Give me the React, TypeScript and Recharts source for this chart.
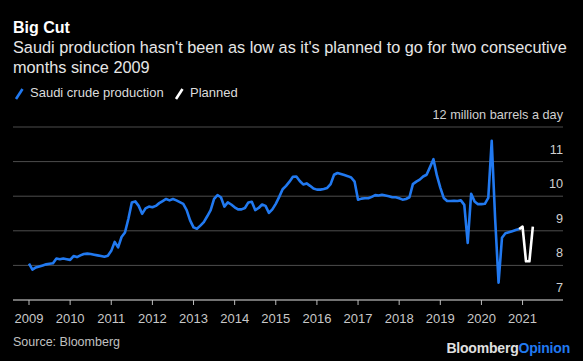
import React from "react";
import { LineChart, Line, XAxis, YAxis, CartesianGrid } from "recharts";

const W = 583;
const H = 361;
const X_AXIS_H = 30;
const Y_AXIS_W = 20;
const M = { top: 127, right: 0, bottom: 61 - X_AXIS_H, left: 13 };
const FONT = "'Liberation Sans', Arial, Helvetica, sans-serif";

const BLUE = "#2179f0";

// Tick labels
const years = [2009, 2010, 2011, 2012, 2013, 2014, 2015, 2016, 2017, 2018, 2019, 2020, 2021];
const yTicks = [7, 8, 9, 10, 11, 12];
const unitLabel = "12 million barrels a day";

// Saudi crude production, million barrels a day, monthly Jan..Dec
const prod2009 = [8.05, 7.88, 7.94, 7.97, 8.0, 8.03, 8.05, 8.06, 8.2, 8.18, 8.2, 8.18];
const prod2010 = [8.16, 8.27, 8.24, 8.29, 8.33, 8.34, 8.33, 8.31, 8.29, 8.27, 8.25, 8.28];
const prod2011 = [8.42, 8.68, 8.52, 8.82, 8.95, 9.35, 9.82, 9.85, 9.72, 9.49, 9.65, 9.7];
const prod2012 = [9.68, 9.72, 9.8, 9.86, 9.92, 9.88, 9.92, 9.88, 9.83, 9.78, 9.6, 9.3];
const prod2013 = [9.1, 9.06, 9.15, 9.25, 9.42, 9.6, 9.92, 10.03, 9.97, 9.7, 9.82, 9.76];
const prod2014 = [9.68, 9.62, 9.62, 9.66, 9.82, 9.84, 9.6, 9.66, 9.76, 9.72, 9.52, 9.62];
const prod2015 = [9.78, 9.98, 10.2, 10.3, 10.42, 10.56, 10.57, 10.44, 10.34, 10.37, 10.3, 10.22];
const prod2016 = [10.19, 10.19, 10.21, 10.24, 10.35, 10.62, 10.67, 10.64, 10.61, 10.58, 10.54, 10.42];
const prod2017 = [9.9, 9.93, 9.94, 9.94, 9.98, 10.03, 10.02, 10.04, 10.02, 10.0, 9.97, 9.97];
const prod2018 = [9.94, 9.9, 9.92, 9.97, 10.35, 10.42, 10.48, 10.57, 10.62, 10.84, 11.07, 10.6];
const prod2019 = [10.25, 9.95, 9.86, 9.86, 9.87, 9.86, 9.88, 9.75, 8.65, 10.07, 9.85, 9.77];
const prod2020 = [9.77, 9.78, 9.95, 11.6, 9.35, 7.5, 8.8, 8.93, 8.96, 8.99, 9.02, 9.05];

// Planned: Dec 2020 .. Apr 2021
const planned = [9.05, 9.12, 8.12, 8.12, 9.12];

const production = [
  ...prod2009, ...prod2010, ...prod2011, ...prod2012, ...prod2013, ...prod2014,
  ...prod2015, ...prod2016, ...prod2017, ...prod2018, ...prod2019, ...prod2020,
];

const planStart = production.length - 1;
const data: { m: number; prod: number | null; plan: number | null }[] = [];
for (let i = 0; i < planStart + planned.length; i++) {
  data.push({
    m: i,
    prod: i < production.length ? production[i] : null,
    plan: i >= planStart ? planned[i - planStart] : null,
  });
}

const xTicks = years.map((_, i) => i * 12);
const plotRight = W - M.right - Y_AXIS_W;
const plotBottom = H - M.bottom - X_AXIS_H;

const XTick = (props: any) => {
  const { x, payload } = props;
  const label = years[Math.round(payload.value / 12)];
  return (
    <text x={x} y={plotBottom + 23} textAnchor="middle" fill="#c8c8c8" fontSize={13} fontFamily={FONT}>
      {label}
    </text>
  );
};

const YTick = (props: any) => {
  const { y, payload } = props;
  const v = payload.value;
  const label = v === 12 ? unitLabel : String(v);
  return (
    <text x={plotRight} y={y - 8} textAnchor="end" fill="#d0d0d0" fontSize={12.7} fontFamily={FONT}>
      {label}
    </text>
  );
};

export default function App() {
  React.useEffect(() => {
    document.body.style.margin = "0";
    document.body.style.background = "#000";
  }, []);
  return (
    <div style={{ position: "fixed", left: 0, top: 0, width: W, height: H, background: "#000", overflow: "hidden" }}>
      <LineChart width={W} height={H} data={data} margin={M}>
        <CartesianGrid horizontal vertical={false} stroke="#4d4d4d" strokeWidth={1} />
        <XAxis
          dataKey="m"
          type="number"
          domain={[-4.67, 155.8]}
          allowDataOverflow
          ticks={xTicks}
          interval={0}
          height={X_AXIS_H}
          tick={<XTick />}
          tickSize={5}
          axisLine={{ stroke: "#bdbdbd", strokeWidth: 1 }}
          tickLine={{ stroke: "#bdbdbd", strokeWidth: 1 }}
        />
        <YAxis
          orientation="right"
          type="number"
          domain={[7, 12]}
          ticks={yTicks}
          interval={0}
          width={Y_AXIS_W}
          axisLine={false}
          tickLine={false}
          tick={<YTick />}
        />
        <Line
          dataKey="prod"
          type="linear"
          stroke={BLUE}
          strokeWidth={2.6}
          dot={false}
          strokeLinejoin="round"
          isAnimationActive={false}
        />
        <Line
          dataKey="plan"
          type="linear"
          stroke="#ffffff"
          strokeWidth={2.6}
          dot={false}
          strokeLinejoin="round"
          isAnimationActive={false}
        />
      </LineChart>
      <svg width={W} height={H} style={{ position: "absolute", left: 0, top: 0, pointerEvents: "none" }}>
        <text x={13} y={33} fill="#ffffff" fontSize={16} fontWeight="bold" fontFamily={FONT}>
          Big Cut
        </text>
        <text x={13} y={53} fill="#e6e6e6" fontSize={16.3} fontFamily={FONT}>
          Saudi production hasn't been as low as it's planned to go for two consecutive
        </text>
        <text x={13} y={73} fill="#e6e6e6" fontSize={16.3} fontFamily={FONT}>
          months since 2009
        </text>
        <line x1={16} y1={99} x2={22.5} y2={89} stroke={BLUE} strokeWidth={2.6} />
        <text x={30} y={97} fill="#dcdcdc" fontSize={13} fontFamily={FONT}>
          Saudi crude production
        </text>
        <line x1={176} y1={99} x2={182.5} y2={89} stroke="#ffffff" strokeWidth={2.6} />
        <text x={190} y={97} fill="#dcdcdc" fontSize={13} fontFamily={FONT}>
          Planned
        </text>
        <text x={13} y={346} fill="#c0c0c0" fontSize={12.5} fontFamily={FONT}>
          Source: Bloomberg
        </text>
        <text x={570} y={353} textAnchor="end" fontSize={14} fontWeight="bold" fontFamily={FONT} letterSpacing={-0.2}>
          <tspan fill="#e0e0e0">Bloomberg</tspan>
          <tspan fill={BLUE}>Opinion</tspan>
        </text>
      </svg>
    </div>
  );
}
